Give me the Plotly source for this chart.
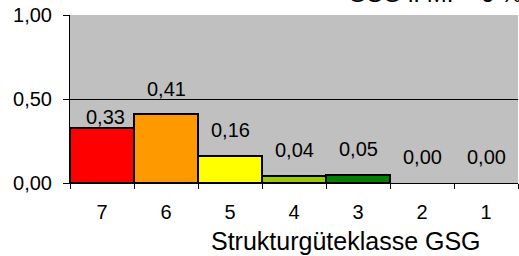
import plotly.graph_objects as go

categories = ["7", "6", "5", "4", "3", "2", "1"]
values = [0.33, 0.41, 0.16, 0.04, 0.05, 0.00, 0.00]
labels = ["0,33", "0,41", "0,16", "0,04", "0,05", "0,00", "0,00"]
colors = ["#FF0000", "#FF9900", "#FFFF00", "#99CC00", "#008000", "#C0C0C0", "#C0C0C0"]
label_shift = [-2, 12, 13, 13, 13, 13, 13]
label_xshift = [3, 0, 0, 0, 0, 0, 0]
line_w = [2, 2, 2, 2, 2, 0, 0]

FONT = "Liberation Sans, Arial, sans-serif"

fig = go.Figure()
fig.add_trace(go.Bar(
    x=categories, y=values,
    marker=dict(color=colors, line=dict(color="black", width=line_w)),
    width=1.0, hoverinfo="skip",
))

for i, (v, t, s, xs) in enumerate(zip(values, labels, label_shift, label_xshift)):
    fig.add_annotation(x=i, y=v, text=t, showarrow=False, yanchor="bottom",
                       yshift=s, xshift=xs, font=dict(size=20, color="black", family=FONT))

fig.add_annotation(xref="paper", yref="paper", x=0.615, y=-0.345, text="Strukturgüteklasse GSG",
                   showarrow=False, xanchor="center", yanchor="middle",
                   font=dict(size=25, color="black", family=FONT))

fig.add_annotation(xref="paper", yref="paper", x=1.0, y=1.0, yshift=6, xshift=6,
                   text="GSG i. M. = 6 %", showarrow=False, xanchor="right", yanchor="bottom",
                   font=dict(size=24, color="black", family=FONT))

fig.update_layout(
    width=519, height=256,
    margin=dict(l=70, r=1, t=15, b=73),
    paper_bgcolor="white", plot_bgcolor="#C0C0C0",
    separators=",.",
    bargap=0, showlegend=False,
    font=dict(family=FONT, size=20, color="black"),
    xaxis=dict(type="category", tickson="boundaries", ticks="outside", ticklen=5,
               tickcolor="black", showline=True, linecolor="black", linewidth=1,
               showgrid=False, ticklabelstandoff=11, tickfont=dict(size=20),
               automargin=False),
    yaxis=dict(range=[0, 1], tickvals=[0, 0.5, 1], tickformat=".2f", ticks="outside",
               ticklen=6, tickcolor="black", showline=True, linecolor="black", linewidth=1,
               showgrid=True, gridcolor="black", gridwidth=1, zeroline=False,
               ticklabelstandoff=7, tickfont=dict(size=20), automargin=False),
)

fig.write_html("out.html", config={"displayModeBar": False},
               post_script="document.body.style.margin='0';")
